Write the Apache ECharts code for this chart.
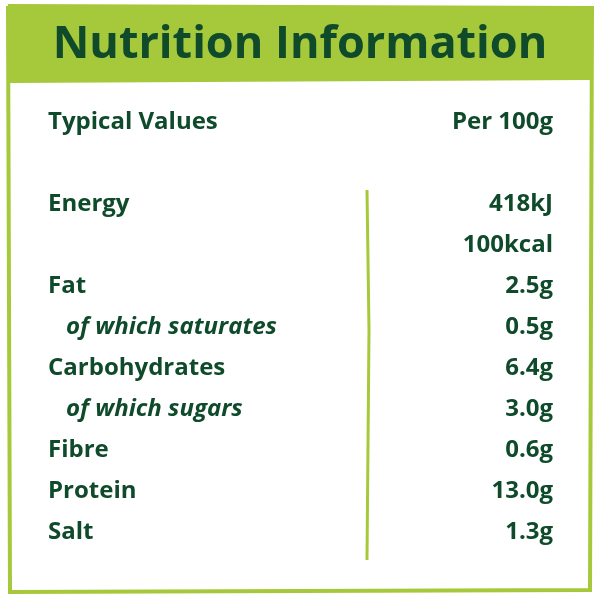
<!DOCTYPE html>
<html>
<head>
<meta charset="utf-8">
<script src="https://cdn.jsdelivr.net/npm/echarts@6/dist/echarts.min.js"></script>
<style>html,body{margin:0;padding:0;background:#fff}#main{width:600px;height:606px}</style>
</head>
<body>
<div id="main"></div>
<script>
var title = 'Nutrition Information';
var headLeft = 'Typical Values';
var headRight = 'Per 100g';
var nutrients = ['Energy', '', 'Fat', 'of which saturates', 'Carbohydrates', 'of which sugars', 'Fibre', 'Protein', 'Salt'];
var amounts = ['418kJ', '100kcal', '2.5g', '0.5g', '6.4g', '3.0g', '0.6g', '13.0g', '1.3g'];
var subRow = [false, false, false, true, false, true, false, false, false];

var myChart = echarts.init(document.getElementById('main'));
var green = '#a5c93a';
var dark = '#0f4a2b';
var font = '"Open Sans", sans-serif';
var rowFont = '700 24px ' + font;

var elements = [
  // border
  { type: 'polyline', shape: { points: [[8, 6], [592, 8], [590, 590], [10, 592], [8, 6]] },
    style: { stroke: green, lineWidth: 4, fill: null } },
  { type: 'polygon', shape: { points: [[8, 6], [592, 8], [591, 80], [8, 83]] },
    style: { fill: green } },
  { type: 'text', x: 300, y: 45, style: { text: title, fill: dark, font: '700 45px ' + font, align: 'center', verticalAlign: 'middle' } },
  { type: 'text', x: 48, y: 122, style: { text: headLeft, fill: dark, font: rowFont, verticalAlign: 'middle' } },
  { type: 'text', x: 553, y: 122, style: { text: headRight, fill: dark, font: rowFont, align: 'right', verticalAlign: 'middle' } },
  // divider
  { type: 'polyline', shape: { points: [[367, 190], [369, 330], [367, 560]] },
    style: { stroke: green, lineWidth: 3, fill: null } }
];

nutrients.forEach(function (name, i) {
  var y = 204 + i * 41;
  if (name) {
    elements.push({ type: 'text', x: subRow[i] ? 66 : 48, y: y,
      style: { text: name, fill: dark, font: (subRow[i] ? 'italic ' : '') + rowFont, verticalAlign: 'middle' } });
  }
  elements.push({ type: 'text', x: 553, y: y,
    style: { text: amounts[i], fill: dark, font: rowFont, align: 'right', verticalAlign: 'middle' } });
});

myChart.setOption({ backgroundColor: '#fff', graphic: { elements: elements } });
window.addEventListener('resize', myChart.resize);
</script>
</body>
</html>
